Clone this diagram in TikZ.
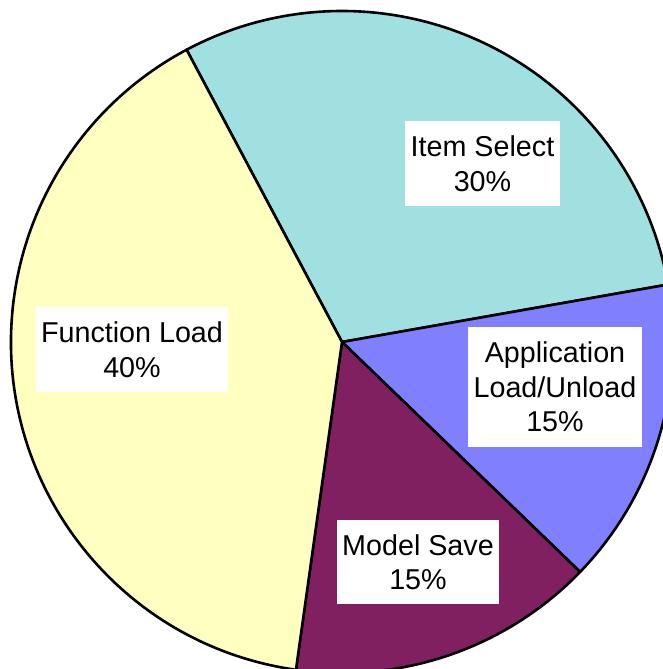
\documentclass[tikz,border=0pt]{standalone}
\usepackage{fontspec}
\setmainfont{Liberation Sans}
\definecolor{itemc}{HTML}{A0E0E0}
\definecolor{appc}{HTML}{8080FF}
\definecolor{modelc}{HTML}{802060}
\definecolor{funcc}{HTML}{FFFFC0}
\tikzset{
  slice/.style={draw=black, line width=2.6pt, line join=round},
  lbl/.style={fill=white, inner sep=0pt, align=center,
    font=\fontsize{28.7}{34.5}\selectfont},
}
\begin{document}
\begin{tikzpicture}[x=1pt,y=1pt]
\useasboundingbox (0,0) rectangle (663,669);
\clip (0,0) rectangle (663,669);
\coordinate (c) at (342,327);
\def\R{331}
\filldraw[slice, fill=itemc] (c) -- ++(118:\R) arc[start angle=118, end angle=10, radius=\R] -- cycle;
\filldraw[slice, fill=appc] (c) -- ++(10:\R) arc[start angle=10, end angle=-44, radius=\R] -- cycle;
\filldraw[slice, fill=modelc] (c) -- ++(-44:\R) arc[start angle=-44, end angle=-98, radius=\R] -- cycle;
\filldraw[slice, fill=funcc] (c) -- ++(-98:\R) arc[start angle=-98, end angle=-242, radius=\R] -- cycle;
\node[lbl, minimum width=155, minimum height=85] (item) at (482.5,505.5) {Item Select\\30\%};
\node[lbl, minimum width=174, minimum height=120] (app) at (555,282) {Application\\Load/Unload\\15\%};
\node[lbl, minimum width=162, minimum height=84] (model) at (418,107) {Model Save\\15\%};
\node[lbl, minimum width=192, minimum height=85] (func) at (132,319.5) {Function Load\\40\%};
\end{tikzpicture}
\end{document}
